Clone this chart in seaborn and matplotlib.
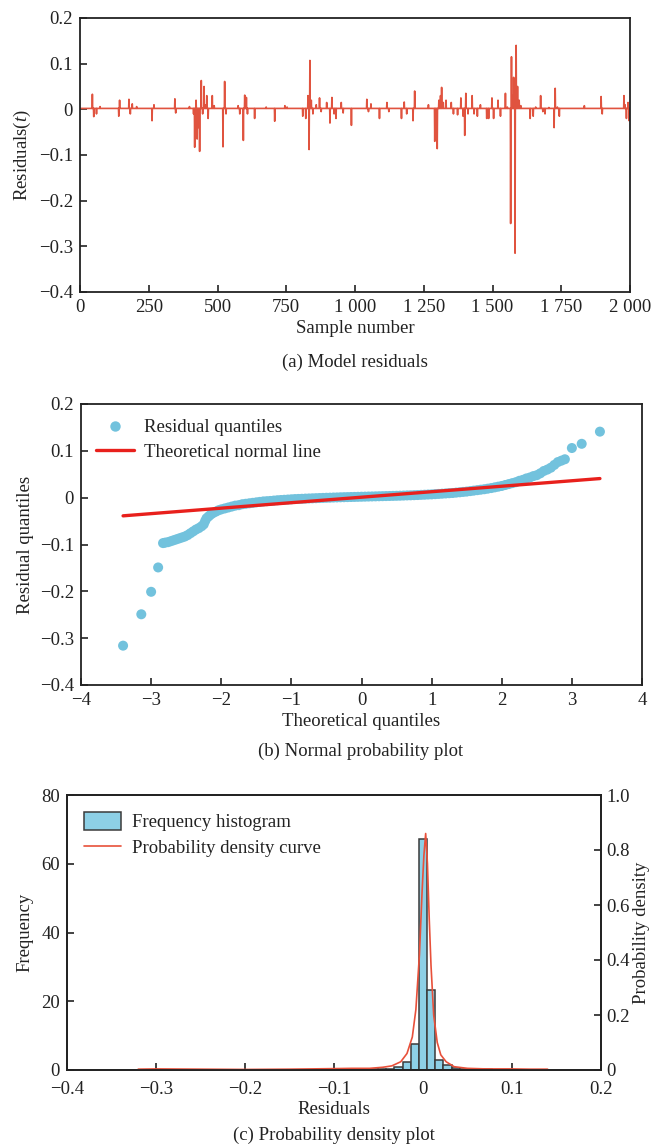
import numpy as np
import pandas as pd
import matplotlib
matplotlib.use("Agg")
import matplotlib.pyplot as plt
from matplotlib.patches import Patch
from matplotlib.lines import Line2D
import seaborn as sns

# ---------------- data ----------------
# (a) model residuals: quiet baseline with isolated spikes
n_samples = 2000
baseline_level = 0.002
spike_idx = [45, 50, 60, 73, 141, 144, 178, 183, 190, 206, 262, 269, 345, 348, 398,
             413, 417, 422, 426, 431, 435, 441, 446, 451, 457, 461, 466, 481, 488,
             520, 526, 531, 575, 581, 594, 599, 605, 609, 635, 677, 708, 745, 753,
             810, 821, 829, 833, 836, 841, 847, 859, 871, 877, 897, 909, 916, 924,
             931, 950, 957, 987, 1043, 1049, 1058, 1089, 1116, 1123, 1169, 1179,
             1188, 1211, 1217, 1267, 1290, 1294, 1299, 1305, 1311, 1315, 1321, 1331,
             1350, 1358, 1373, 1385, 1393, 1399, 1403, 1411, 1426, 1433, 1445, 1456,
             1479, 1486, 1498, 1504, 1520, 1529, 1547, 1554, 1566, 1569, 1574, 1577,
             1582, 1586, 1591, 1597, 1603, 1637, 1648, 1657, 1675, 1683, 1691, 1705,
             1724, 1728, 1736, 1743, 1834, 1895, 1899, 1978, 1982, 1987, 1993, 1997]
spike_val = [0.033, -0.016, -0.010, 0.006, -0.015, 0.020, 0.022, -0.010, 0.012, 0.006,
             -0.025, 0.010, 0.023, -0.008, 0.006, -0.010, -0.083, 0.020, -0.065, -0.040,
             -0.092, 0.063, -0.010, 0.050, 0.010, 0.030, -0.020, 0.030, 0.008, -0.082,
             0.061, -0.010, 0.008, -0.010, -0.068, 0.031, 0.026, -0.010, -0.020, 0.005,
             -0.026, 0.008, 0.005, -0.015, -0.020, 0.030, -0.088, 0.107, 0.020, -0.010,
             0.010, 0.025, -0.005, 0.015, -0.030, 0.026, -0.010, -0.020, 0.015, -0.008,
             -0.035, 0.022, -0.005, 0.012, -0.020, 0.015, -0.005, -0.020, 0.016, -0.010,
             -0.025, 0.040, 0.010, -0.070, -0.040, -0.086, 0.020, 0.030, 0.048, 0.015,
             0.020, 0.015, -0.010, -0.012, 0.025, -0.015, -0.057, 0.035, -0.010, 0.030,
             -0.010, -0.015, 0.010, -0.020, -0.020, 0.025, -0.020, 0.020, -0.015, 0.035,
             0.005, -0.250, 0.115, 0.030, 0.070, -0.315, 0.140, 0.050, 0.020, 0.008,
             -0.020, -0.015, 0.005, 0.030, -0.005, -0.010, 0.004, -0.040, 0.046, 0.005,
             -0.015, 0.008, 0.028, -0.010, 0.030, 0.010, -0.020, 0.015, -0.025]

# (b) normal probability plot: theoretical vs residual quantiles
theo_q = [-3.40, -3.14, -3.00, -2.90, -2.83,
          -2.80, -2.76, -2.72, -2.68, -2.64, -2.60, -2.56, -2.52, -2.48, -2.44,
          -2.40, -2.36, -2.32, -2.28, -2.25, -2.23, -2.21, -2.18, -2.15, -2.12,
          -2.08, -2.04, -2.00, -1.95, -1.90, -1.85, -1.80, -1.75, -1.70, -1.65,
          -1.60, -1.55, -1.50, -1.45, -1.40, -1.35, -1.30, -1.25, -1.20, -1.15,
          -1.10, -1.05, -1.00, -0.95, -0.90, -0.85, -0.80, -0.75, -0.70, -0.65,
          -0.60, -0.55, -0.50, -0.45, -0.40, -0.35, -0.30, -0.25, -0.20, -0.15,
          -0.10, -0.05, 0.00, 0.05, 0.10, 0.15, 0.20, 0.25, 0.30, 0.35,
          0.40, 0.45, 0.50, 0.55, 0.60, 0.65, 0.70, 0.75, 0.80, 0.85,
          0.90, 0.95, 1.00, 1.05, 1.10, 1.15, 1.20, 1.25, 1.30, 1.35,
          1.40, 1.45, 1.50, 1.55, 1.60, 1.65, 1.70, 1.75, 1.80, 1.85,
          1.90, 1.95, 2.00, 2.05, 2.10, 2.15, 2.20, 2.25, 2.30, 2.35,
          2.40, 2.45, 2.50, 2.55, 2.60, 2.65, 2.70, 2.75, 2.80, 2.85,
          2.90, 3.00, 3.14, 3.40]
resid_q = [-0.316, -0.249, -0.201, -0.149, -0.097,
           -0.096, -0.095, -0.093, -0.091, -0.089, -0.087, -0.085, -0.083, -0.080, -0.076,
           -0.072, -0.068, -0.065, -0.061, -0.057, -0.050, -0.044, -0.040, -0.036, -0.033,
           -0.030, -0.027, -0.025, -0.023, -0.021, -0.019, -0.017, -0.016, -0.014, -0.013,
           -0.012, -0.011, -0.010, -0.009, -0.008, -0.0075, -0.007, -0.0062, -0.0055, -0.005,
           -0.0045, -0.004, -0.0035, -0.003, -0.0027, -0.0024, -0.002, -0.0017, -0.0014, -0.0011,
           -0.0008, -0.0005, -0.0002, 0.0000, 0.0003, 0.0005, 0.0008, 0.0010, 0.0012, 0.0014,
           0.0016, 0.0018, 0.0020, 0.0022, 0.0024, 0.0026, 0.0028, 0.0030, 0.0032, 0.0034,
           0.0036, 0.0038, 0.0040, 0.0042, 0.0045, 0.0048, 0.0050, 0.0053, 0.0056, 0.0060,
           0.0063, 0.0067, 0.0070, 0.0075, 0.0080, 0.0085, 0.0090, 0.0095, 0.0100, 0.0108,
           0.0115, 0.0123, 0.0130, 0.0140, 0.0150, 0.0160, 0.0170, 0.0180, 0.0192, 0.0205,
           0.0220, 0.0235, 0.0250, 0.0270, 0.0290, 0.0310, 0.0330, 0.0360, 0.0380, 0.0410,
           0.0430, 0.0460, 0.0480, 0.0520, 0.0570, 0.0600, 0.0640, 0.0700, 0.0760, 0.0790,
           0.0820, 0.1060, 0.1150, 0.1410]
line_x = [-3.40, 3.40]
line_y = [-0.0388, 0.0408]

# (c) histogram of residuals (density) and smoothed density curve
hist_lo, hist_hi, hist_nbins = -0.316, 0.142, 50
hist_heights = [0.05, 0, 0, 0, 0, 0, 0, 0.05, 0, 0,
                0, 0, 0.05, 0, 0, 0, 0, 0, 0.05, 0,
                0, 0, 0, 0.05, 0.25, 0.15, 0.15, 0.2, 0.2, 0.25,
                0.35, 0.8, 2.2, 7.5, 67.2, 23.3, 2.9, 1.6, 0.6, 0.35,
                0.25, 0.15, 0.15, 0.1, 0.05, 0.05, 0.05, 0.05, 0, 0.05]
kde_x = [-0.32, -0.30, -0.25, -0.20, -0.15, -0.10, -0.08, -0.06, -0.045, -0.035,
         -0.025, -0.018, -0.012, -0.008, -0.004, -0.001, 0.001, 0.003, 0.005, 0.007,
         0.009, 0.012, 0.016, 0.020, 0.026, 0.035, 0.050, 0.070, 0.100, 0.120, 0.140]
kde_y = [0.003, 0.004, 0.003, 0.002, 0.003, 0.005, 0.006, 0.006, 0.010, 0.015,
         0.030, 0.060, 0.120, 0.220, 0.420, 0.650, 0.780, 0.860, 0.750, 0.550,
         0.380, 0.200, 0.100, 0.055, 0.030, 0.012, 0.006, 0.004, 0.004, 0.003, 0.003]

# tick labels
a_xticks = [0, 250, 500, 750, 1000, 1250, 1500, 1750, 2000]
a_xlabels = ["0", "250", "500", "750", "1 000", "1 250", "1 500", "1 750", "2 000"]
res_ticks = [-0.4, -0.3, -0.2, -0.1, 0, 0.1, 0.2]
res_labels = ["\u22120.4", "\u22120.3", "\u22120.2", "\u22120.1", "0", "0.1", "0.2"]
b_xticks = [-4, -3, -2, -1, 0, 1, 2, 3, 4]
b_xlabels = ["\u22124", "\u22123", "\u22122", "\u22121", "0", "1", "2", "3", "4"]
c_xticks = [-0.4, -0.3, -0.2, -0.1, 0, 0.1, 0.2]
c_xlabels = ["\u22120.4", "\u22120.3", "\u22120.2", "\u22120.1", "0", "0.1", "0.2"]
freq_ticks = [0, 20, 40, 60, 80]
dens_ticks = [0, 0.2, 0.4, 0.6, 0.8, 1.0]
dens_labels = ["0", "0.2", "0.4", "0.6", "0.8", "1.0"]

# ---------------- style ----------------
sns.set_theme(style="ticks")
plt.rcParams.update({
    "font.family": ["Liberation Serif", "DejaVu Serif"],
    "font.size": 13.5,
    "mathtext.fontset": "custom",
    "mathtext.rm": "Liberation Serif",
    "mathtext.it": "Liberation Serif:italic",
    "axes.linewidth": 1.3,
    "axes.edgecolor": "#222222",
    "xtick.direction": "in",
    "ytick.direction": "in",
    "xtick.major.size": 5,
    "ytick.major.size": 5,
    "xtick.major.width": 1.2,
    "ytick.major.width": 1.2,
    "xtick.color": "#222222",
    "ytick.color": "#222222",
    "text.color": "#222222",
    "axes.labelcolor": "#222222",
})

W, H = 651, 1144
fig = plt.figure(figsize=(W / 100, H / 100), dpi=100)


def box(l, t, r, b):
    return [l / W, 1 - b / H, (r - l) / W, (b - t) / H]


FS = 13.5

# ---------------- (a) residual series ----------------
ax1 = fig.add_axes(box(80, 18, 630, 292))
residuals = np.full(n_samples, baseline_level)
residuals[np.array(spike_idx)] = spike_val
sns.lineplot(x=np.arange(n_samples), y=residuals, ax=ax1, color="#E0533F",
             linewidth=1.2, estimator=None, sort=False)
ax1.set_xlim(0, 2000)
ax1.set_ylim(-0.4, 0.2)
ax1.set_xticks(a_xticks, a_xlabels)
ax1.set_yticks(res_ticks, res_labels)
ax1.set_xlabel("Sample number", fontsize=FS, labelpad=3)
ax1.set_ylabel("Residuals($t$)", fontsize=FS, labelpad=4)
ax1.tick_params(labelsize=FS, pad=5)
fig.text(355 / W, 1 - 362 / H, "(a) Model residuals", ha="center", va="center", fontsize=FS)

# ---------------- (b) normal probability plot ----------------
ax2 = fig.add_axes(box(81, 404, 642, 685))
sns.scatterplot(x=theo_q, y=resid_q, ax=ax2, color="#72C2DD", s=52,
                edgecolor="none", linewidth=0, zorder=2)
sns.lineplot(x=line_x, y=line_y, ax=ax2, color="#E8201C", linewidth=2.4, zorder=3)
ax2.set_xlim(-4, 4)
ax2.set_ylim(-0.4, 0.2)
ax2.set_xticks(b_xticks, b_xlabels)
ax2.set_yticks(res_ticks, res_labels)
ax2.set_xlabel("Theoretical quantiles", fontsize=FS, labelpad=3)
ax2.set_ylabel("Residual quantiles", fontsize=FS, labelpad=4)
ax2.tick_params(labelsize=FS, pad=5)
handles_b = [Line2D([], [], marker="o", linestyle="none", markersize=7.5,
                    markerfacecolor="#72C2DD", markeredgecolor="none"),
             Line2D([], [], color="#E8201C", linewidth=2.4)]
ax2.legend(handles_b, ["Residual quantiles", "Theoretical normal line"],
           loc="upper left", bbox_to_anchor=(0.0, 1.0), frameon=False,
           fontsize=FS, handlelength=2.05, handletextpad=0.5, labelspacing=0.4,
           borderaxespad=0.4)
fig.text(361 / W, 1 - 751 / H, "(b) Normal probability plot", ha="center", va="center", fontsize=FS)

# ---------------- (c) probability density plot ----------------
ax3 = fig.add_axes(box(67, 795, 601, 1070))
bin_w = (hist_hi - hist_lo) / hist_nbins
hist_df = pd.DataFrame({"residual": [hist_lo + (k + 0.5) * bin_w for k in range(hist_nbins)],
                        "density": hist_heights})
sns.histplot(data=hist_df, x="residual", weights="density", bins=hist_nbins,
             binrange=(hist_lo, hist_hi), stat="count",
             ax=ax3, color="#8DD0E6", edgecolor="#3a3a3a", linewidth=1.1, alpha=1.0)
ax3.set_xlim(-0.4, 0.2)
ax3.set_ylim(0, 80)
ax3.set_xticks(c_xticks, c_xlabels)
ax3.set_yticks(freq_ticks)
ax3.set_xlabel("Residuals", fontsize=FS, labelpad=2)
ax3.set_ylabel("Frequency", fontsize=FS, labelpad=6)
ax3.tick_params(axis="y", labelsize=FS, pad=5)
ax3.tick_params(axis="x", labelsize=FS, pad=8)

ax3r = ax3.twinx()
sns.lineplot(x=kde_x, y=kde_y, ax=ax3r, color="#E8503A", linewidth=1.2,
             estimator=None, sort=False)
ax3r.set_ylim(0, 1.0)
ax3r.set_yticks(dens_ticks, dens_labels)
ax3r.set_ylabel("Probability density", fontsize=FS, labelpad=2)
ax3r.tick_params(labelsize=FS, pad=4, direction="in")
for sp in ax3r.spines.values():
    sp.set_linewidth(1.3)

handles_c = [Patch(facecolor="#8DD0E6", edgecolor="#3a3a3a", linewidth=1.1),
             Line2D([], [], color="#E8503A", linewidth=1.2)]
ax3r.legend(handles_c, ["Frequency histogram", "Probability density curve"],
            loc="upper left", bbox_to_anchor=(0.0, 1.0), frameon=False,
            fontsize=FS, handlelength=2.0, handleheight=1.1, handletextpad=0.55,
            labelspacing=0.35, borderaxespad=0.5)
fig.text(334 / W, 1 - 1135 / H, "(c) Probability density plot", ha="center", va="center", fontsize=FS)

fig.savefig("out.png", dpi=100)
